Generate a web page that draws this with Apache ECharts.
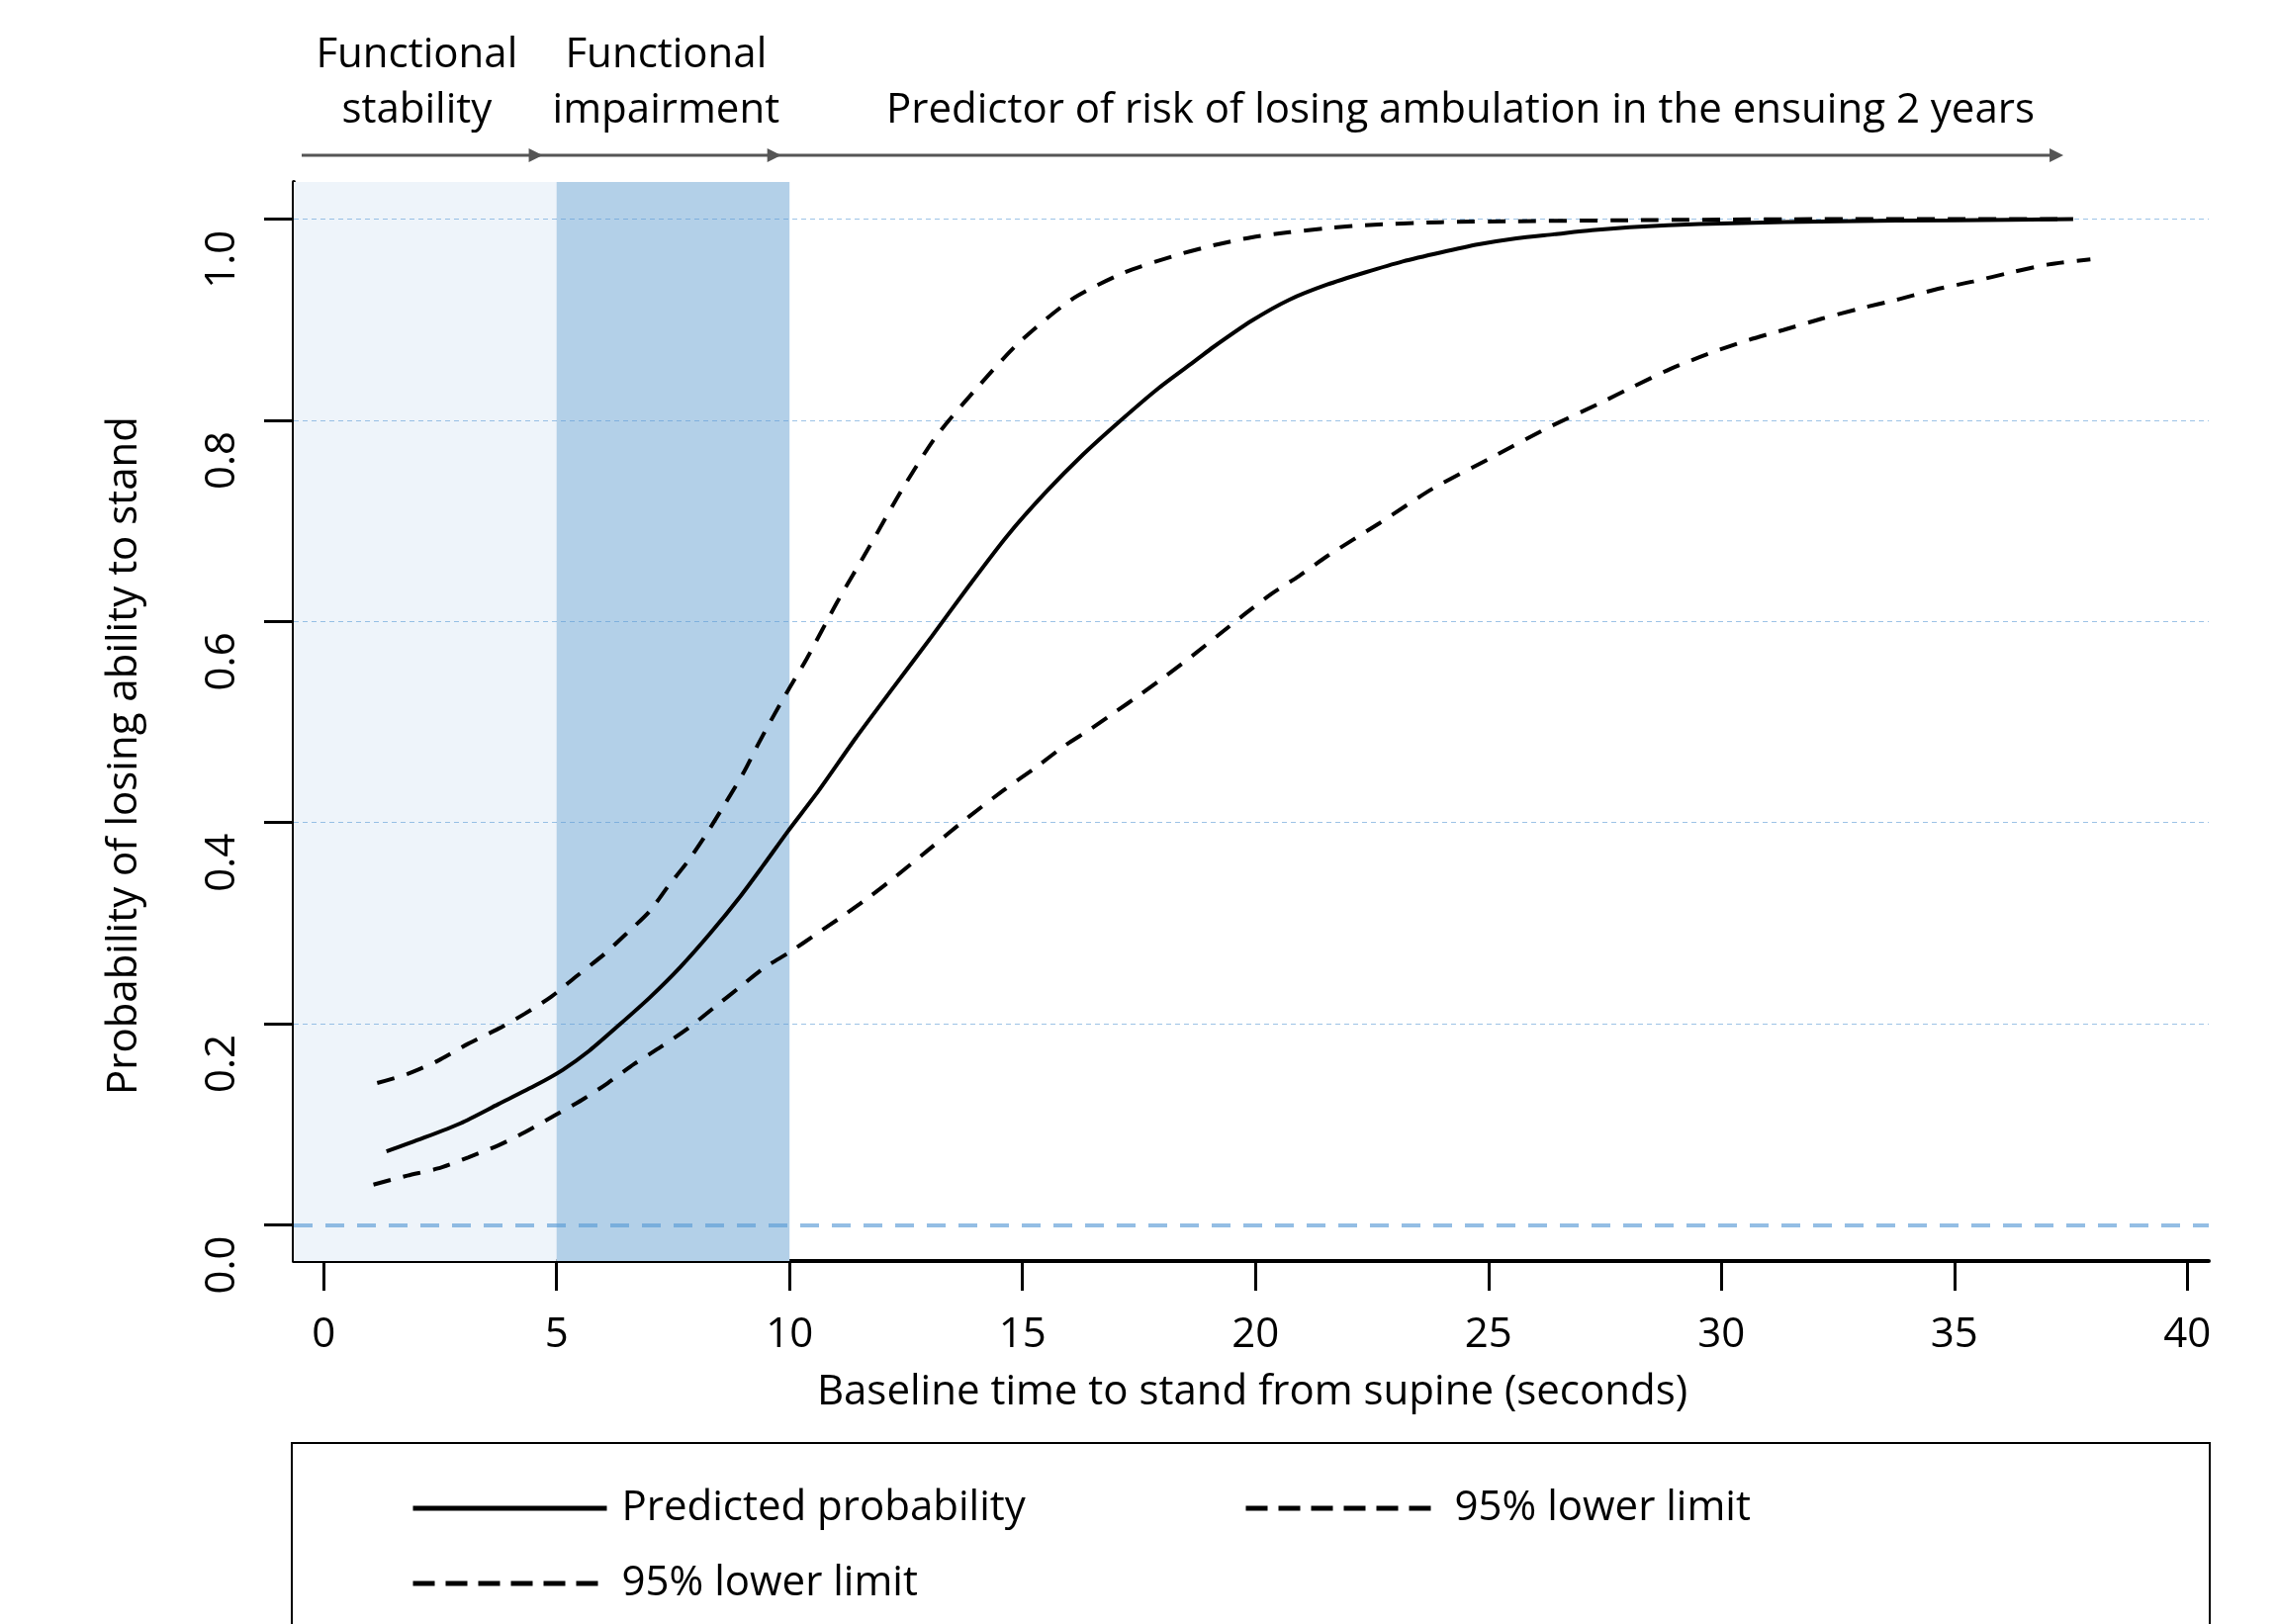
<!DOCTYPE html>
<html><head><meta charset="utf-8">
<script src="https://cdn.jsdelivr.net/npm/echarts@6/dist/echarts.min.js"></script>
<style>html,body{margin:0;padding:0;background:#fff}#c{width:2303px;height:1642px}</style>
</head><body><div id="c"></div>
<script>
// ---------- data ----------
const X_TICKS = [0, 5, 10, 15, 20, 25, 30, 35, 40];
const Y_TICKS = [0, 0.2, 0.4, 0.6, 0.8, 1.0];
const GRID_LINES = [0.2, 0.4, 0.6, 0.8, 1.0];
const ZERO_LINE = 0;
const PHASE_BOUNDS = [5, 10];
const PHASE_LABELS = ['Functional\nstability', 'Functional\nimpairment', 'Predictor of risk of losing ambulation in the ensuing 2 years'];
const PHASE_LABEL_X = [2.0, 7.35, 24.4];
const ARROW_STOPS = [-0.47, 4.7, 9.82, 37.34];

const PRED_X = [1.35, 2.12, 2.94, 3.75, 4.56, 5.13, 5.70, 6.35, 7.00, 7.65, 8.30, 8.95, 9.43, 9.96, 10.63, 11.42, 12.24, 13.05, 13.86, 14.67, 15.49, 16.30, 17.11, 17.92, 18.73, 19.10, 19.92, 20.73, 21.54, 22.35, 23.16, 23.98, 24.79, 25.60, 26.41, 27.22, 28.03, 28.85, 30.21, 32.5, 35.0, 37.55];
const PRED_Y = [0.073, 0.086, 0.101, 0.120, 0.139, 0.154, 0.173, 0.199, 0.226, 0.256, 0.290, 0.327, 0.357, 0.391, 0.432, 0.484, 0.535, 0.585, 0.636, 0.685, 0.728, 0.766, 0.800, 0.832, 0.860, 0.873, 0.899, 0.920, 0.935, 0.947, 0.958, 0.967, 0.975, 0.981, 0.985, 0.989, 0.992, 0.994, 0.996, 0.998, 0.999, 1.0];

const UPPER_X = [1.15, 1.80, 2.45, 3.10, 3.75, 4.32, 4.89, 5.45, 6.02, 6.51, 7.00, 7.40, 7.81, 8.22, 8.62, 9.03, 9.35, 9.68, 10.00, 10.37, 11.02, 11.71, 12.40, 13.13, 13.98, 14.92, 16.05, 17.19, 18.29, 19.10, 19.92, 20.73, 21.54, 22.35, 23.98, 25.6, 28.0, 32.0, 37.4];
const UPPER_Y = [0.141, 0.150, 0.163, 0.180, 0.195, 0.210, 0.227, 0.248, 0.269, 0.290, 0.312, 0.337, 0.361, 0.389, 0.419, 0.451, 0.480, 0.508, 0.534, 0.563, 0.619, 0.674, 0.730, 0.783, 0.830, 0.877, 0.920, 0.947, 0.964, 0.974, 0.982, 0.987, 0.991, 0.994, 0.997, 0.998, 0.999, 1.0, 1.0];

const LOWER_X = [1.07, 1.80, 2.45, 3.10, 3.75, 4.32, 4.97, 5.54, 6.10, 6.67, 7.24, 7.81, 8.38, 8.95, 9.47, 10.0, 10.57, 11.14, 11.71, 12.27, 13.01, 13.80, 14.59, 15.32, 15.89, 16.46, 16.99, 17.52, 18.08, 18.65, 19.22, 19.79, 20.36, 20.93, 21.54, 22.67, 23.80, 25.03, 26.25, 27.39, 28.09, 28.90, 29.71, 30.52, 31.34, 32.15, 32.96, 33.77, 34.59, 35.40, 36.21, 37.02, 37.92];
const LOWER_Y = [0.040, 0.049, 0.056, 0.067, 0.079, 0.092, 0.109, 0.124, 0.141, 0.160, 0.177, 0.195, 0.216, 0.237, 0.256, 0.271, 0.289, 0.307, 0.326, 0.346, 0.374, 0.404, 0.432, 0.456, 0.476, 0.493, 0.510, 0.527, 0.546, 0.566, 0.587, 0.608, 0.628, 0.645, 0.665, 0.698, 0.732, 0.762, 0.792, 0.817, 0.833, 0.851, 0.866, 0.879, 0.890, 0.901, 0.911, 0.920, 0.930, 0.938, 0.947, 0.955, 0.960];

const SERIES_NAMES = ['Predicted probability', '95% upper limit', '95% lower limit'];
const LEGEND_TEXT = ['Predicted probability', '95% lower limit', '95% lower limit'];
const X_TITLE = 'Baseline time to stand from supine (seconds)';
const Y_TITLE = 'Probability of losing ability to stand';

// ---------- chart ----------
const X_MIN = -0.64, X_MAX = 40.46, Y_MIN = -0.036, Y_MAX = 1.037;
const FONT = '"Open Sans", sans-serif';
const FS = 42;
const DASH = [18, 13];
const zip = (xs, ys) => xs.map((x, i) => [x, ys[i]]);

const chart = echarts.init(document.getElementById('c'), null, {renderer: 'canvas', width: 2303, height: 1642});

const lineSeries = (name, xs, ys, dashed) => ({
  name, type: 'line', data: zip(xs, ys), smooth: 0.25, symbol: 'none', z: 5,
  lineStyle: {color: '#000', width: 4, type: dashed ? DASH : 'solid'},
  itemStyle: {color: '#000'}
});

const legendBase = (dashed) => ({
  orient: 'horizontal', itemWidth: 196, itemHeight: 20, itemGap: 0, selectedMode: false,
  itemStyle: {opacity: 0, color: 'rgba(0,0,0,0)', borderWidth: 0},
  lineStyle: {width: 5, color: '#000', type: dashed ? [22, 11] : 'solid'},
  textStyle: {fontSize: FS, fontFamily: FONT, color: '#000', padding: [0, 0, 0, 10]}
});

chart.setOption({
  animation: false,
  backgroundColor: '#fff',
  textStyle: {fontFamily: FONT},
  grid: {left: 297, right: 70, top: 184, bottom: 367, containLabel: false},
  xAxis: {
    type: 'value', min: X_MIN, max: X_MAX,
    axisLine: {show: true, onZero: false, lineStyle: {color: '#000', width: 4}},
    axisTick: {show: true, length: 30, customValues: X_TICKS, lineStyle: {color: '#000', width: 3}},
    axisLabel: {customValues: X_TICKS, margin: 54, fontSize: FS, fontFamily: FONT, color: '#000'},
    splitLine: {show: false}
  },
  yAxis: {
    type: 'value', min: Y_MIN, max: Y_MAX,
    axisLine: {show: true, onZero: false, lineStyle: {color: '#000', width: 4}},
    axisTick: {show: true, length: 30, customValues: Y_TICKS, lineStyle: {color: '#000', width: 3}},
    axisLabel: {customValues: Y_TICKS, rotate: 90, align: 'right', verticalAlign: 'middle', margin: 72,
      padding: [0, 11, 0, 0], fontSize: FS, fontFamily: FONT, color: '#000',
      formatter: v => v.toFixed(1)},
    splitLine: {show: false}
  },
  legend: [
    Object.assign(legendBase(false), {data: [SERIES_NAMES[0]], left: 410, top: 1499, formatter: () => LEGEND_TEXT[0]}),
    Object.assign(legendBase(true), {data: [SERIES_NAMES[1]], left: 1252, top: 1499, formatter: () => LEGEND_TEXT[1]}),
    Object.assign(legendBase(true), {data: [SERIES_NAMES[2]], left: 410, top: 1575, formatter: () => LEGEND_TEXT[2]})
  ],
  series: [
    {
      name: 'bands', type: 'line', data: [], z: 1, silent: true,
      markArea: {silent: true, data: [
        [{xAxis: X_MIN, itemStyle: {color: '#eef4fa'}}, {xAxis: PHASE_BOUNDS[0]}],
        [{xAxis: PHASE_BOUNDS[0], itemStyle: {color: '#b3d0e8'}}, {xAxis: PHASE_BOUNDS[1]}]
      ]}
    },
    {
      name: 'gridlines', type: 'line', data: [], z: 2, silent: true,
      markLine: {silent: true, symbol: ['none', 'none'], label: {show: false},
        data: GRID_LINES.map(v => ({yAxis: v, lineStyle: {color: 'rgba(91,155,213,0.6)', width: 1, type: [5, 4]}}))
          .concat([{yAxis: ZERO_LINE, lineStyle: {color: 'rgba(91,155,213,0.65)', width: 4, type: [19, 13]}}])
      }
    },
    lineSeries(SERIES_NAMES[0], PRED_X, PRED_Y, false),
    lineSeries(SERIES_NAMES[1], UPPER_X, UPPER_Y, true),
    lineSeries(SERIES_NAMES[2], LOWER_X, LOWER_Y, true)
  ]
});

// ---------- annotations ----------
const px = x => chart.convertToPixel({xAxisIndex: 0}, x);
const ARROW_Y = 157;
const TXT = {font: FS + 'px ' + FONT, fill: '#000', align: 'center', verticalAlign: 'middle'};
const g = [];
g.push({type: 'line', silent: true, shape: {x1: px(ARROW_STOPS[0]), y1: ARROW_Y, x2: px(ARROW_STOPS[3]) - 6, y2: ARROW_Y},
  style: {stroke: '#555', lineWidth: 3}});
ARROW_STOPS.slice(1).forEach(s => {
  const tx = px(s);
  g.push({type: 'polygon', silent: true, shape: {points: [[tx, ARROW_Y], [tx - 14, ARROW_Y - 7], [tx - 14, ARROW_Y + 7]]},
    style: {fill: '#555'}});
});
g.push({type: 'text', silent: true, x: px(PHASE_LABEL_X[0]), y: 84, style: Object.assign({text: PHASE_LABELS[0], lineHeight: 56}, TXT)});
g.push({type: 'text', silent: true, x: px(PHASE_LABEL_X[1]), y: 84, style: Object.assign({text: PHASE_LABELS[1], lineHeight: 56}, TXT)});
g.push({type: 'text', silent: true, x: px(PHASE_LABEL_X[2]), y: 112, style: Object.assign({text: PHASE_LABELS[2]}, TXT)});
g.push({type: 'text', silent: true, x: 1266, y: 1408, style: Object.assign({text: X_TITLE}, TXT)});
g.push({type: 'text', silent: true, x: 126, y: 764, rotation: Math.PI / 2, style: Object.assign({text: Y_TITLE}, TXT)});
g.push({type: 'rect', silent: true, z: -1, shape: {x: 295, y: 1459, width: 1939, height: 400},
  style: {fill: 'none', stroke: '#000', lineWidth: 2}});
chart.setOption({graphic: g});
</script>
</body></html>
